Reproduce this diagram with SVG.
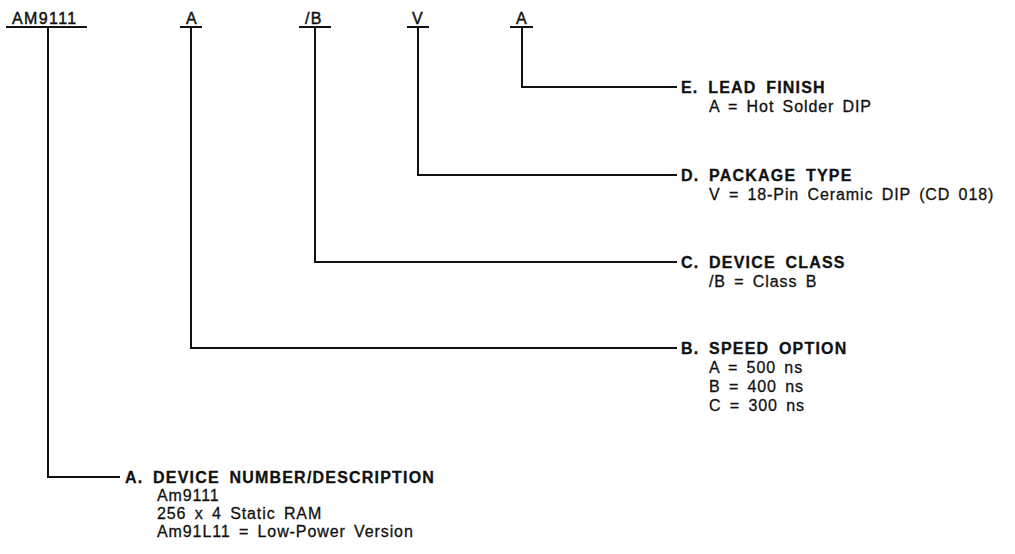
<svg xmlns="http://www.w3.org/2000/svg" width="1015" height="554" viewBox="0 0 1015 554">
<style>
.bg{fill:#fff}
.ln{fill:none;stroke:#111;stroke-width:2}
.code{font-family:"Liberation Sans",Arial,sans-serif;font-size:16px;fill:#111;stroke:#111;stroke-width:0.45;letter-spacing:1.4px}
.hd{font-family:"Liberation Sans",Arial,sans-serif;font-size:16px;font-weight:bold;fill:#111;stroke:#111;stroke-width:0.3;letter-spacing:1.2px;word-spacing:4px}
.tx{font-family:"Liberation Sans",Arial,sans-serif;font-size:16px;fill:#111;stroke:#111;stroke-width:0.3;letter-spacing:0.9px;word-spacing:3px}
</style>
<rect class="bg" x="0" y="0" width="1015" height="554"/>
<g id="codes">
<g id="code-am9111"><text class="code" x="12" y="24">AM9111</text><line class="ln" x1="6" y1="27" x2="87" y2="27"/></g>
<g id="code-a"><text class="code" x="186" y="24">A</text><line class="ln" x1="180" y1="27" x2="202" y2="27"/></g>
<g id="code-b"><text class="code" x="305" y="24">/B</text><line class="ln" x1="299" y1="27" x2="331" y2="27"/></g>
<g id="code-v"><text class="code" x="412" y="24">V</text><line class="ln" x1="407" y1="27" x2="429" y2="27"/></g>
<g id="code-a2"><text class="code" x="516" y="24">A</text><line class="ln" x1="510" y1="27" x2="533" y2="27"/></g>
</g>
<g id="connectors">
<polyline class="ln" points="522,27 522,87 677,87"/>
<polyline class="ln" points="418,27 418,175 677,175"/>
<polyline class="ln" points="315,27 315,262 677,262"/>
<polyline class="ln" points="191,27 191,348 677,348"/>
<polyline class="ln" points="48,27 48,477 120,477"/>
</g>
<g id="node-e"><text class="hd" x="681" y="93">E. LEAD FINISH</text><text class="tx" x="709" y="112">A = Hot Solder DIP</text></g>
<g id="node-d"><text class="hd" x="681" y="181">D. PACKAGE TYPE</text><text class="tx" x="709" y="200">V = 18-Pin Ceramic DIP (CD 018)</text></g>
<g id="node-c"><text class="hd" x="681" y="268">C. DEVICE CLASS</text><text class="tx" x="709" y="287">/B = Class B</text></g>
<g id="node-b"><text class="hd" x="681" y="354">B. SPEED OPTION</text><text class="tx" x="709" y="373">A = 500 ns</text><text class="tx" x="709" y="392">B = 400 ns</text><text class="tx" x="709" y="411">C = 300 ns</text></g>
<g id="node-a"><text class="hd" x="125" y="483">A. DEVICE NUMBER/DESCRIPTION</text><text class="tx" x="157" y="501">Am9111</text><text class="tx" x="157" y="519">256 x 4 Static RAM</text><text class="tx" x="157" y="537">Am91L11 = Low-Power Version</text></g>
</svg>
